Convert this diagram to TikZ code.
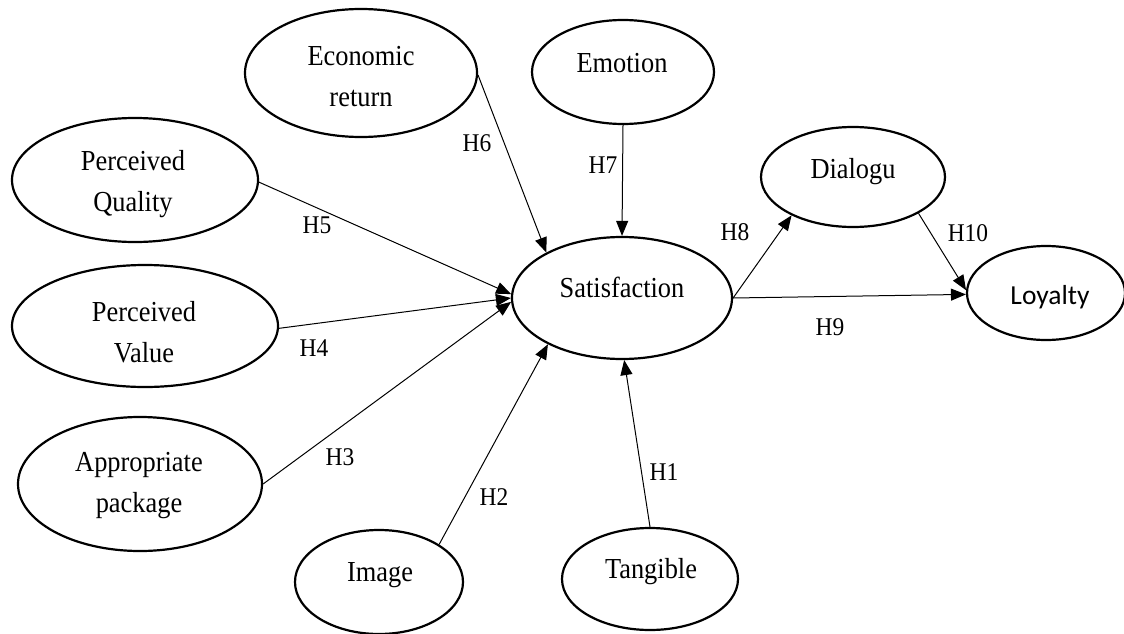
\documentclass[tikz,border=0pt]{standalone}
\usepackage{fontspec}
\setmainfont{Liberation Serif}
\newfontfamily\calfont{Carlito}
\usetikzlibrary{shapes.geometric,arrows.meta}
\begin{document}
\begin{tikzpicture}[x=1pt,y=-1pt,
  ell/.style={draw, ellipse, line width=2.2pt, inner sep=0pt},
  lbl/.style={font=\fontsize{29}{41}\selectfont, align=center, inner sep=0pt, xscale=0.91, transform shape},
  hyp/.style={font=\fontsize{25.5}{28}\selectfont, inner sep=0pt, xscale=0.92, transform shape},
  conn/.style={line width=1pt, -{Triangle[length=15pt,width=12pt]}}]
\useasboundingbox (0,0) rectangle (1124,634);
% ellipses
\node[ell, minimum width=232, minimum height=128] (econ) at (361,73) {};
\node[ell, minimum width=182, minimum height=104] (emo) at (623,72) {};
\node[ell, minimum width=246, minimum height=124] (pq) at (135,180) {};
\node[ell, minimum width=266, minimum height=122] (pv) at (145,326) {};
\node[ell, minimum width=244, minimum height=134] (app) at (140,484) {};
\node[ell, minimum width=168, minimum height=104] (img) at (379,582) {};
\node[ell, minimum width=176, minimum height=102] (tan) at (650,579) {};
\node[ell, minimum width=220, minimum height=122] (sat) at (622,298) {};
\node[ell, minimum width=184, minimum height=100] (dlg) at (853,177) {};
\node[ell, minimum width=158, minimum height=94] (loy) at (1046,293) {};
% texts
\node[lbl] (econ-t) at (361,77) {Economic\\return};
\node[lbl] (emo-t) at (622,63) {Emotion};
\node[lbl] (pq-t) at (133,184) {Perceived\\Quality};
\node[lbl] (pv-t) at (144,332) {Perceived\\Value};
\node[lbl] (app-t) at (139,486) {Appropriate\\package};
\node[lbl] (img-t) at (380,575) {Image};
\node[lbl] (tan-t) at (651,572) {Tangible};
\node[lbl] (sat-t) at (622,287) {Satisfaction};
\node[lbl] (dlg-t) at (853,172) {Dialogu};
\node[inner sep=0pt, font=\calfont\fontsize{27.5}{32}\selectfont] (loy-t) at (1050,297) {Loyalty};
% connectors
\draw[conn] (econ.-1) -- (sat.149);
\draw[conn] (emo.south) -- (sat.north);
\draw[conn] (pq.-1) -- (sat.178);
\draw[conn] (pv.-1) -- (sat.180);
\draw[conn] (app.east) -- (sat.182);
\draw[conn] (img.32) -- (sat.212);
\draw[conn] (tan.north) -- (sat.-88);
\draw[conn] (sat.east) -- (dlg.212);
\draw[conn] (sat.east) -- (loy.181);
\draw[conn] (dlg.-29) -- (loy.178);
% hypothesis labels
\node[hyp] (h1) at (664,472) {H1};
\node[hyp] (h2) at (494,497) {H2};
\node[hyp] (h3) at (340,457) {H3};
\node[hyp] (h4) at (314,348) {H4};
\node[hyp] (h5) at (317,225) {H5};
\node[hyp] (h6) at (477,143) {H6};
\node[hyp] (h7) at (603,165) {H7};
\node[hyp] (h8) at (735,232) {H8};
\node[hyp] (h9) at (830,327) {H9};
\node[hyp] (h10) at (968,233) {H10};
\end{tikzpicture}
\end{document}
